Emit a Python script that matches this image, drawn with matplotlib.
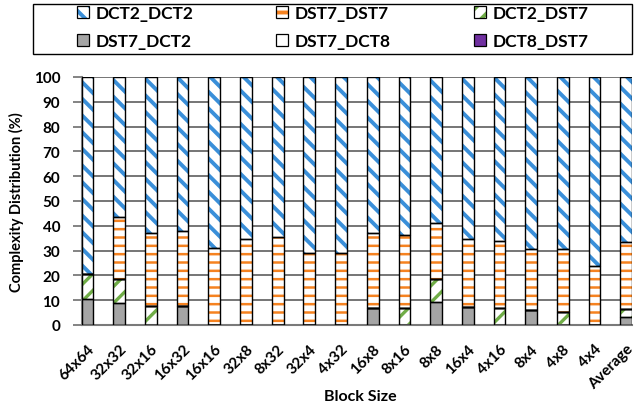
import matplotlib.pyplot as plt
import numpy as np
from matplotlib.patches import Patch, Rectangle
from matplotlib.legend_handler import HandlerTuple

plt.rcParams['font.family'] = ['Lato', 'DejaVu Sans']
plt.rcParams['font.weight'] = 'bold'

# 数据
blocks = ['64x64', '32x32', '32x16', '16x32', '16x16', '32x8', '8x32', '32x4', '4x32',
          '16x8', '8x16', '8x8', '16x4', '4x16', '8x4', '4x8', '4x4', 'Average']
dst7_dct2 = [10.6, 9.0, 0, 7.5, 0, 0, 0, 0, 0, 7.0, 0, 9.4, 7.4, 0, 6.1, 0, 0, 3.4]
dct2_dst7 = [10.1, 9.6, 7.7, 0, 0, 0, 0, 0, 0, 0, 7.0, 9.2, 0, 7.0, 0, 5.4, 0, 3.2]
dst7_dct8 = [0] * 18
dct8_dst7 = [0] * 18
dst7_dst7 = [0, 24.8, 29.2, 30.2, 31.2, 34.6, 35.3, 29.2, 29.2, 30.0, 29.2, 22.7,
             27.2, 26.9, 24.7, 25.4, 23.6, 26.7]
dct2_dct2 = list(100 - np.sum([dst7_dct2, dct2_dst7, dst7_dct8, dct8_dst7, dst7_dst7], axis=0))

# 从下到上的堆叠顺序: (名称, 数值, 填充色, 花纹颜色, 花纹, 花纹线宽)
series = [
    ('DST7_DCT2', dst7_dct2, '#a5a5a5', None, None, 0),
    ('DCT2_DST7', dct2_dst7, 'white', '#70ad47', '//', 2.4),
    ('DST7_DCT8', dst7_dct8, 'white', None, None, 0),
    ('DCT8_DST7', dct8_dst7, '#7030a0', None, None, 0),
    ('DST7_DST7', dst7_dst7, 'white', '#f58220', '--', 1.8),
    ('DCT2_DCT2', dct2_dct2, 'white', '#3a8fd9', '\\\\', 2.8),
]

fig = plt.figure(figsize=(6.4, 4.1), dpi=100)
ax = fig.add_axes([0.1277, 0.2049, 0.8598, 0.6049])

x = np.arange(len(blocks))
width = 0.37
bottom = np.zeros(len(blocks))
handles = {}
for name, vals, fc, hc, hatch, hlw in series:
    vals = np.array(vals, dtype=float)
    if hatch:
        plt.rcParams['hatch.linewidth'] = hlw
        ax.bar(x, vals, width, bottom=bottom, facecolor=fc, edgecolor=hc,
               hatch=hatch, linewidth=0, zorder=2)
        p1 = Patch(facecolor=fc, edgecolor=hc, hatch=hatch, linewidth=0)
    else:
        ax.bar(x, vals, width, bottom=bottom, facecolor=fc, linewidth=0, zorder=2)
        p1 = Patch(facecolor=fc, linewidth=0)
    ax.bar(x, vals, width, bottom=bottom, facecolor='none', edgecolor='black',
           linewidth=1.0, zorder=3)
    p2 = Patch(facecolor='none', edgecolor='black', linewidth=0.9)
    handles[name] = (p1, p2)
    bottom += vals

ax.set_xlim(-width / 2, len(blocks) - 1 + width / 2)
ax.set_ylim(0, 100)
ax.set_yticks(np.arange(0, 101, 10))
ax.yaxis.grid(True, color='#6a6a6a', linewidth=1.3, zorder=0)
ax.set_axisbelow(True)
for s in ['top', 'right']:
    ax.spines[s].set_visible(False)
for s in ['left', 'bottom']:
    ax.spines[s].set_color('#7a7a7a')
    ax.spines[s].set_linewidth(1.5)
ax.tick_params(axis='y', length=6.5, width=1.3, color='#7a7a7a', labelsize=11, pad=9)
ax.tick_params(axis='x', length=0, labelsize=11, pad=12)
ax.set_xticks(x)
ax.set_xticklabels(blocks, rotation=45, ha='right', va='top', rotation_mode='anchor')
ax.set_xlabel('Block Size', fontsize=11.5, fontweight='bold')
ax.xaxis.set_label_coords(0.506, -0.258)
ax.set_ylabel('Complexity Distribution (%)', fontsize=10.5, fontweight='bold')
ax.yaxis.set_label_coords(-0.105, 0.5)

# 图例 (Excel 风格按行排列, 每列单独放置)
columns = [['DCT2_DCT2', 'DST7_DCT2'], ['DST7_DST7', 'DST7_DCT8'], ['DCT2_DST7', 'DCT8_DST7']]
col_x = [77, 276, 474]
for names, cx in zip(columns, col_x):
    leg = fig.legend([handles[n] for n in names], names, loc='upper left',
                     bbox_to_anchor=(cx / 640, 1 - 6 / 410), frameon=False, fontsize=12.5,
                     handlelength=0.7, handleheight=0.7, handletextpad=0.35,
                     borderpad=0, borderaxespad=0, labelspacing=0.7,
                     handler_map={tuple: HandlerTuple(ndivide=1)})
fig.add_artist(Rectangle((33 / 640, 1 - 55 / 410), 599 / 640, 50 / 410,
                         transform=fig.transFigure, facecolor='none',
                         edgecolor='black', linewidth=1.0))

plt.savefig('out.png', dpi=100)
